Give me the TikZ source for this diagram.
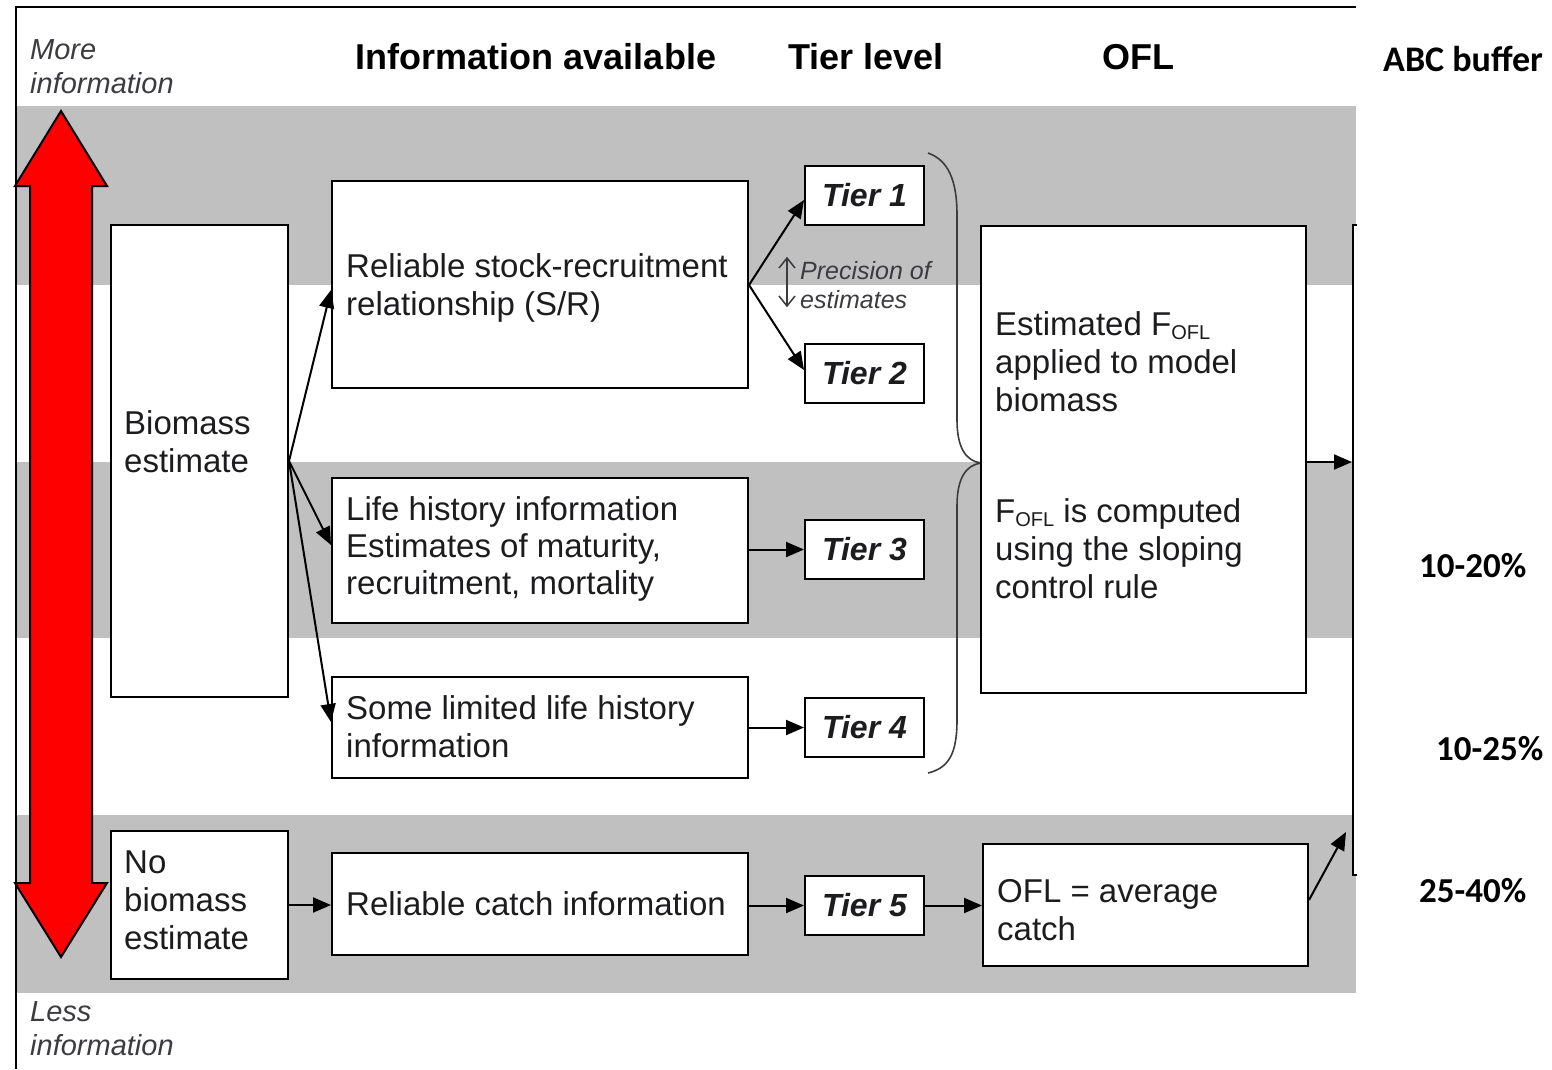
\documentclass[tikz,border=0pt]{standalone}
\usepackage{fontspec}
\setmainfont{Liberation Sans}
\newfontfamily\calfont{Carlito}
\usetikzlibrary{arrows.meta,calc}
\definecolor{band}{RGB}{192,192,192}
\definecolor{ink}{RGB}{28,28,30}
\definecolor{soft}{RGB}{60,60,64}
\definecolor{arrowred}{RGB}{255,0,0}
\newcommand{\fofl}{F\raisebox{-4pt}{\fontsize{20}{20}\selectfont OFL}}

\begin{document}
\begin{tikzpicture}[x=1pt,y=-1pt,
  box/.style={draw=black, line width=2pt, fill=white, inner sep=0pt},
  tierbox/.style={box, minimum width=119pt, minimum height=59pt,
    font=\fontsize{32}{32}\selectfont\bfseries\itshape, text=ink},
  txt/.style={anchor=base west, align=left, inner sep=0pt, text=ink,
    font=\fontsize{33}{38}\selectfont},
  head/.style={anchor=base, inner sep=0pt, text=black,
    font=\fontsize{36}{36}\selectfont\bfseries},
  pct/.style={anchor=base west, inner sep=0pt, text=black,
    font=\calfont\fontsize{35}{35}\selectfont\bfseries},
  side/.style={anchor=base west, align=left, inner sep=0pt, text=soft,
    font=\fontsize{29}{34}\selectfont\itshape},
  flow/.style={line width=2pt, -{Triangle[length=18pt,width=15pt]}},
]
\useasboundingbox (0,0) rectangle (1552,1069);

% shaded rows
\fill[band] (17,106) rectangle (1356,285);
\fill[band] (17,462) rectangle (1356,638);
\fill[band] (17,815) rectangle (1356,993);

% frame
\draw[line width=2pt] (1356,7) -- (16,7) -- (16,1069);

% column headings
\node[head] (hinfo) at (536,69) {Information available};
\node[head] (htier) at (866,69) {Tier level};
\node[head] (hofl)  at (1138,69) {OFL};
\node[pct, font=\calfont\fontsize{36}{36}\selectfont\bfseries] (habc) at (1383,71) {ABC buffer};

% side labels (anchored at the baseline of the last line)
\node[side] (more) at (30,93) {More\\information};
\node[side] (less) at (30,1055) {Less\\information};

% ABC box (partly shown)
\fill[white] (1353,225) rectangle (1357,875);
\draw[line width=2pt] (1357,225) -- (1353,225) -- (1353,875) -- (1357,875);
\coordinate (abcin)  at (1352,462);
\coordinate (abcin2) at (1346,832);

% brace grouping tiers 1 to 4
\draw[soft, line width=1.6pt]
  (928,153) .. controls (948,160) and (957,180) .. (957,215)
  -- (957,420) .. controls (957,448) and (966,461) .. (981,463)
  .. controls (966,465) and (957,478) .. (957,506)
  -- (957,720) .. controls (957,755) and (948,768) .. (928,773);

% boxes
\node[box, minimum width=177pt, minimum height=472pt] (bio)   at (199.5,461) {};
\node[box, minimum width=177pt, minimum height=148pt] (nobio) at (199.5,905) {};
\node[box, minimum width=416pt, minimum height=207pt] (sr)        at (540,284.5) {};
\node[box, minimum width=416pt, minimum height=145pt] (life)      at (540,550.5) {};
\node[box, minimum width=416pt, minimum height=101pt] (limited)   at (540,727.5) {};
\node[box, minimum width=416pt, minimum height=102pt] (catchinfo) at (540,904) {};
\node[tierbox] (t1) at (864.5,195.5) {Tier 1};
\node[tierbox] (t2) at (864.5,373.5) {Tier 2};
\node[tierbox] (t3) at (864.5,549.5) {Tier 3};
\node[tierbox] (t4) at (864.5,727.5) {Tier 4};
\node[tierbox] (t5) at (864.5,905.5) {Tier 5};
\node[box, minimum width=325pt, minimum height=467pt] (ofl1) at (1143.5,459.5) {};
\node[box, minimum width=325pt, minimum height=122pt] (ofl2) at (1145.5,905) {};

% box texts (anchored at the baseline of the last line)
\node[txt] (biotxt)   at (124,472) {Biomass\\estimate};
\node[txt] (nobiotxt) at (124,949) {No\\biomass\\estimate};
\node[txt] (srtxt)    at (346,315) {Reliable stock-recruitment\\relationship (S/R)};
\node[txt, font=\fontsize{33}{37}\selectfont] (lifetxt) at (346,594)
  {Life history information\\Estimates of maturity,\\recruitment, mortality};
\node[txt] (limtxt)   at (346,757) {Some limited life history\\information};
\node[txt] (catchtxt) at (346,915) {Reliable catch information};
\node[txt, font=\fontsize{33}{37.7}\selectfont] (ofl1a) at (995,411)
  {Estimated \fofl\\applied to model\\biomass};
\node[txt, font=\fontsize{33}{37.7}\selectfont] (ofl1b) at (995,598)
  {\fofl{} is computed\\using the sloping\\control rule};
\node[txt] (ofl2txt)  at (997,940) {OFL = average\\catch};

% precision note: thin double arrow with open heads
\coordinate (precup) at (787,258);
\coordinate (precdn) at (787,306);
\draw[soft, line width=1.5pt] (precup) -- (precdn);
\draw[soft, line width=1.5pt] ($(precup)+(-8,10)$) -- (precup) -- ($(precup)+(8,10)$);
\draw[soft, line width=1.5pt] ($(precdn)+(-8,-10)$) -- (precdn) -- ($(precdn)+(8,-10)$);
\node[anchor=base west, align=left, inner sep=0pt, text=soft,
  font=\fontsize{25}{29}\selectfont\itshape] (prec) at (800,308) {Precision of\\estimates};

% connectors
\draw[flow] (bio.east) -- (sr.west |- 0,290);
\draw[flow] (bio.east) -- (life.west |- 0,545);
\draw[flow] (bio.east) -- (limited.west |- 0,722);
\draw[flow] (nobio.east) -- (catchinfo.west |- nobio.east);
\draw[flow] (sr.east |- 0,285) -- (t1.west |- 0,200);
\draw[flow] (sr.east |- 0,285) -- (t2.west |- 0,370);
\draw[flow] (life.east |- t3.west) -- (t3.west);
\draw[flow] (limited.east) -- (t4.west);
\draw[flow] (catchinfo.east |- t5.west) -- (t5.west);
\draw[flow] (t5.east) -- (ofl2.west |- t5.east);
\draw[flow] (ofl1.east |- abcin) -- (abcin);
\draw[flow] (ofl2.east |- 0,900) -- (abcin2);

% buffer percentages
\node[pct] (p3) at (1419,577) {10-20\%};
\node[pct] (p4) at (1436,760) {10-25\%};
\node[pct] (p5) at (1419,902) {25-40\%};

% information scale arrow
\draw[line width=2pt, fill=arrowred, line join=miter]
  (61,111) -- (15,186) -- (30,186) -- (30,883) -- (15,883) -- (61,957)
  -- (107,883) -- (92,883) -- (92,186) -- (107,186) -- cycle;
\end{tikzpicture}
\end{document}
